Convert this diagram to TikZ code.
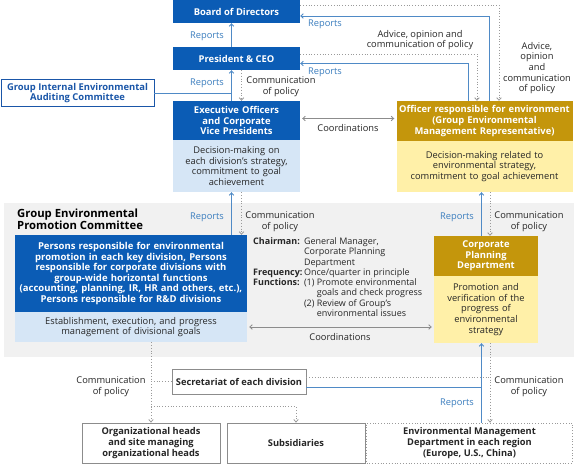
\documentclass[tikz,border=0pt]{standalone}
\usepackage{fontspec}
\setmainfont{Open Sans}
\usetikzlibrary{arrows.meta}
\definecolor{dblue}{HTML}{0B5CB5}
\definecolor{lblue}{HTML}{D6E6F6}
\definecolor{gold}{HTML}{C4960C}
\definecolor{lyellow}{HTML}{FFF0A8}
\definecolor{lineblue}{HTML}{4F8AC6}
\definecolor{repblue}{HTML}{3A7DBE}
\definecolor{auditblue}{HTML}{1A56A8}
\definecolor{panelgray}{HTML}{F1F1F1}
\definecolor{boxgray}{HTML}{8C8C8C}
\definecolor{dotgray}{HTML}{9A9A9A}
\definecolor{ink}{HTML}{262626}
\newcommand{\bodysize}{\fontsize{9.3}{10.6}\selectfont}
\newcommand{\headsize}{\fontsize{9.4}{10.6}\selectfont}
\newcommand{\chairsize}{\fontsize{9}{10.3}\selectfont}
\newcommand{\commpol}{Communication\\of policy}

\begin{document}
\begin{tikzpicture}[x=1pt,y=-1pt]
    \tikzstyle{bluehead}=[fill=dblue,text=white,font=\bfseries\headsize,align=center,inner sep=0pt]
    \tikzstyle{bluebody}=[fill=lblue,text=ink,font=\bodysize,align=center,inner sep=0pt]
    \tikzstyle{goldhead}=[bluehead,fill=gold]
    \tikzstyle{goldbody}=[bluebody,fill=lyellow]
    \tikzstyle{whitebox}=[draw=boxgray,line width=0.8pt,fill=white,text=ink,font=\bfseries\bodysize,align=center,inner sep=0pt]
    \tikzstyle{tip}=[-{Straight Barb[length=2.5pt,width=4.5pt]}]
    \tikzstyle{repline}=[draw=lineblue,line width=0.9pt,tip]
    \tikzstyle{polline}=[draw=dotgray,dotted,line width=0.8pt,tip]
    \tikzstyle{coordline}=[draw=boxgray,line width=0.8pt,{Straight Barb[length=2.5pt,width=4.5pt]}-{Straight Barb[length=2.5pt,width=4.5pt]},shorten <=2pt,shorten >=2pt]
    \tikzstyle{lbl}=[font=\bodysize,text=ink,align=center,inner sep=0pt]
    \tikzstyle{replbl}=[lbl,text=repblue]

    \fill[white] (0,0) rectangle (574,465);
    \useasboundingbox (0,0) rectangle (574,465);
    \fill[panelgray] (4,203) rectangle (574,357);

    \node[bluehead,minimum width=127pt,minimum height=23pt] (board) at (236.5,11.5) {Board of Directors};
    \node[bluehead,minimum width=127pt,minimum height=23pt] (pres) at (236.5,58.5) {President \& CEO};
    \node[bluehead,minimum width=127pt,minimum height=39pt,text width=125pt] (exech) at (236.5,120.5) {Executive Officers\\and Corporate\\Vice Presidents};
    \node[bluebody,minimum width=127pt,minimum height=52pt,text width=126pt] (execb) at (236.5,166) {Decision-making on\\each division's strategy,\\commitment to goal\\achievement};
    \node[draw=auditblue,line width=0.9pt,fill=white,text=auditblue,font=\bfseries\headsize,align=center,inner sep=0pt,minimum width=153pt,minimum height=27pt] (audit) at (77.5,93) {Group Internal Environmental\\Auditing Committee};

    \node[goldhead,minimum width=176pt,minimum height=40pt,text width=175pt] (offh) at (484.5,121) {Officer responsible for environment\\(Group Environmental\\Management Representative)};
    \node[goldbody,minimum width=176pt,minimum height=51pt,text width=174pt] (offb) at (484.5,166.5) {Decision-making related to\\environmental strategy,\\commitment to goal achievement};

    \node[anchor=north west,align=left,inner sep=0pt,text=black,font=\bfseries\fontsize{11.3}{12}\selectfont] (title) at (17,209) {Group Environmental\\Promotion Committee};
    \node[bluehead,font=\bfseries\fontsize{9.5}{10.5}\selectfont,minimum width=232pt,minimum height=77pt,text width=231pt] (persh) at (131,273.5) {Persons responsible for environmental\\promotion in each key division, Persons\\responsible for corporate divisions with\\group-wide horizontal functions\\(accounting, planning, IR, HR and others, etc.),\\Persons responsible for R\&D divisions};
    \node[bluebody,minimum width=232pt,minimum height=30pt,text width=230pt] (persb) at (131,327) {Establishment, execution, and progress\\management of divisional goals};
    \node[lbl,font=\chairsize,anchor=north west,align=left] (chair) at (253,237) {%
        \begin{tabular}{@{}l@{\,}l@{}}
            \textbf{Chairman:} & General Manager,\\
             & Corporate Planning\\
             & Department\\
            \textbf{Frequency:} & Once/quarter in principle\\
            \textbf{Functions:} & (1) Promote environmental\\
             & \hphantom{(1) }goals and check progress\\
             & (2) Review of Group's\\
             & \hphantom{(2) }environmental issues
        \end{tabular}};
    \node[goldhead,minimum width=104pt,minimum height=40pt,text width=102pt] (cpdh) at (486,256) {Corporate\\Planning\\Department};
    \node[goldbody,minimum width=104pt,minimum height=67pt,text width=102pt] (cpdb) at (486,309.5) {Promotion and\\verification of the\\progress of\\environmental\\strategy};

    \node[whitebox,minimum width=134pt,minimum height=25pt] (secr) at (239,381.5) {Secretariat of each division};
    \node[whitebox,minimum width=138pt,minimum height=40pt] (org) at (151,443) {Organizational heads\\and site managing\\organizational heads};
    \node[whitebox,minimum width=138pt,minimum height=40pt] (subs) at (296,443) {Subsidiaries};
    \node[whitebox,draw=dotgray,dotted,minimum width=206pt,minimum height=40pt] (env) at (469.5,443) {Environmental Management\\Department in each region\\(Europe, U.S., China)};

    \coordinate (upx) at ([xshift=-5pt]execb.south);
    \coordinate (dnx) at ([xshift=5pt]execb.south);
    \coordinate (rx) at ([xshift=-4.5pt]cpdh.north);
    \coordinate (px) at ([xshift=4pt]cpdh.north);

    \draw[repline] ([xshift=-5pt]pres.north) -- ([xshift=-5pt]board.south);
    \draw[repline] ([xshift=-5pt]exech.north) -- ([xshift=-5pt]pres.south);
    \draw[polline] ([xshift=5pt]pres.south) -- ([xshift=5pt]exech.north);
    \draw[draw=lineblue,line width=0.9pt] (audit.east) -- (audit.east -| upx);
    \draw[repline] (upx |- persh.north) -- (upx);
    \draw[polline] (dnx) -- (dnx |- persh.north);

    \draw[repline] ([xshift=4.5pt]offh.north) |- ([yshift=-4.5pt]board.east);
    \draw[polline] ([yshift=6.5pt]board.east) -| ([xshift=14.5pt]offh.north);
    \draw[repline] ([xshift=-16.5pt]offh.north) |- ([yshift=-5pt]pres.east);
    \draw[polline] ([yshift=4.5pt]pres.east) -| ([xshift=-7.5pt]offh.north);
    \draw[coordline] ([yshift=2pt]exech.east) -- ([yshift=2pt]exech.east -| offh.west);

    \draw[repline] (rx) -- (rx |- offb.south);
    \draw[polline] (px |- offb.south) -- (px);
    \draw[coordline] (persb.east) -- (persb.east -| cpdb.west);

    \draw[polline] (org.north |- persb.south) -- (org.north);
    \draw[draw=dotgray,dotted,line width=0.8pt] (org.north |- secr.west) -- (secr.west);
    \draw[polline] ([yshift=16pt]org.north) -| (subs.north);
    \draw[draw=dotgray,dotted,line width=0.8pt] ([yshift=4.5pt]secr.east) -- ([yshift=4.5pt]secr.east -| px);
    \draw[polline] (px |- cpdb.south) -- (px |- env.north);
    \draw[draw=lineblue,line width=0.9pt] ([yshift=-5.5pt]secr.east) -- ([yshift=-5.5pt]secr.east -| rx);
    \draw[repline] (rx |- env.north) -- (rx |- cpdb.south);

    \node[replbl] (rep1) at (207,36) {Reports};
    \node[replbl] (rep2) at (207,83) {Reports};
    \node[lbl] (pol1) at (281,87) {\commpol};
    \node[replbl] (rep3) at (325,24) {Reports};
    \node[replbl] (rep4) at (325,72) {Reports};
    \node[lbl] (adv1) at (420,40) {Advice, opinion and\\communication of policy};
    \node[lbl] (adv2) at (537,68) {Advice,\\opinion\\and\\communication\\of policy};
    \node[lbl] (coo1) at (348,128) {Coordinations};
    \node[replbl] (rep5) at (207,217) {Reports};
    \node[lbl] (pol2) at (280,222) {\commpol};
    \node[replbl] (rep6) at (457,217) {Reports};
    \node[lbl] (pol3) at (529,222) {\commpol};
    \node[lbl] (coo2) at (340,337) {Coordinations};
    \node[lbl] (pol4) at (111,387) {\commpol};
    \node[lbl] (pol5) at (529,387) {\commpol};
    \node[replbl] (rep7) at (457,403) {Reports};
\end{tikzpicture}
\end{document}
